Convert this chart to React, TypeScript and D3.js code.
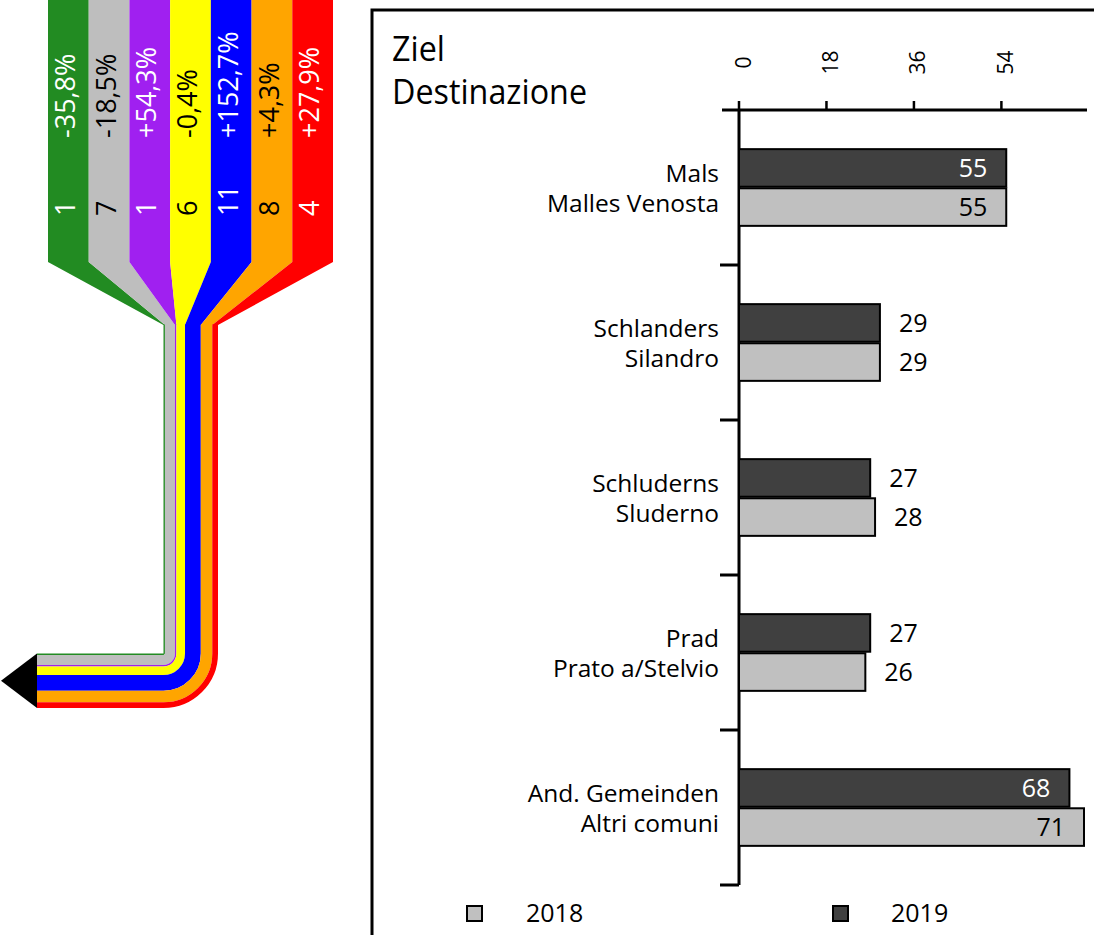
import React from "react";
import * as d3 from "d3";

// flow (left side)
const flowValues = [1, 7, 1, 6, 11, 8, 4];
const flowPct = ["-35,8%", "-18,5%", "+54,3%", "-0,4%", "+152,7%", "+4,3%", "+27,9%"];
const flowColors = ["#228b22", "#bebebe", "#a020f0", "#ffff00", "#0000ff", "#ffa500", "#ff0000"];
const flowText = ["#fff", "#000", "#fff", "#000", "#fff", "#000", "#fff"];

// bar chart (right side)
const destDe = ["Mals", "Schlanders", "Schluderns", "Prad", "And. Gemeinden"];
const destIt = ["Malles Venosta", "Silandro", "Sluderno", "Prato a/Stelvio", "Altri comuni"];
const years = ["2019", "2018"];
const values2019 = [55, 29, 27, 27, 68];
const values2018 = [55, 29, 28, 26, 71];
const xTicks = [0, 18, 36, 54];

const FONT = "'Open Sans', sans-serif";
const W = 1094;
const H = 935;

export default function App() {
  // --- flow geometry
  const colX = d3.scaleBand<number>().domain(d3.range(flowValues.length)).range([48, 333]);
  const total = d3.sum(flowValues);
  const cum = d3.cumsum(flowValues);
  const pipe = d3.scaleLinear().domain([0, total]).range([0, 54.5]);
  const pipeX = 163.5;
  const turnY = 653.5;
  const colBottom = 262;
  const pipeTop = 325;
  const arrowX = 37;

  // --- bar geometry
  const x = d3.scaleLinear().domain([0, 71]).range([739, 1084]);
  const y = d3.scaleBand().domain(destDe).range([110, 885]);
  const yInner = d3.scaleBand().domain(years).range([0, y.bandwidth()]).paddingInner(0.04).paddingOuter(1);
  const series: Record<string, number[]> = { "2019": values2019, "2018": values2018 };
  const fills: Record<string, string> = { "2019": "#404040", "2018": "#c0c0c0" };

  return (
    <svg width={W} height={H} style={{ position: "absolute", left: 0, top: 0 }} fontFamily={FONT}>
      <rect width={W} height={H} fill="#fff" />

      {/* flow columns + tapers */}
      {flowValues.map((v, i) => {
        const x0 = colX(i)!;
        const x1 = x0 + colX.bandwidth();
        const p0 = pipeX + pipe(cum[i] - v);
        const p1 = pipeX + pipe(cum[i]);
        const pts = [[x0, 0], [x1, 0], [x1, colBottom], [p1, pipeTop], [p0, pipeTop], [x0, colBottom]];
        return <polygon key={"c" + i} points={pts.map((p) => p.join(",")).join(" ")} fill={flowColors[i]} />;
      })}

      {/* pipe bands with rounded turn */}
      {flowValues.map((v, i) => {
        const r = pipe(cum[i] - v / 2);
        const w = pipe(v);
        const d = d3.path();
        d.moveTo(pipeX + r, pipeTop - 0.5);
        d.lineTo(pipeX + r, turnY);
        d.arc(pipeX, turnY, r, 0, Math.PI / 2);
        d.lineTo(arrowX, turnY + r);
        return <path key={"p" + i} d={d.toString()} fill="none" stroke={flowColors[i]} strokeWidth={w} />;
      })}
      <polygon
        points={`${arrowX},${turnY} ${arrowX},${turnY + pipe(total)} 1,${turnY + pipe(total) / 2}`}
        fill="#000"
      />

      {/* flow labels */}
      {flowValues.map((v, i) => {
        const bx = colX(i)! + 27;
        return (
          <g key={"t" + i} fill={flowText[i]} fontSize={27}>
            <text transform={`translate(${bx},138) rotate(-90)`}>{flowPct[i]}</text>
            <text transform={`translate(${bx},216) rotate(-90)`}>{v}</text>
          </g>
        );
      })}

      {/* frame */}
      <rect x={372} y={10} width={800} height={1000} fill="none" stroke="#000" strokeWidth={3} />

      {/* title */}
      <text transform="translate(392,61) scale(0.95,1)" fontSize={34}>Ziel</text>
      <text transform="translate(392,104) scale(0.95,1)" fontSize={34}>Destinazione</text>

      {/* top axis */}
      <line x1={722} x2={1087} y1={110} y2={110} stroke="#000" strokeWidth={3} />
      {xTicks.map((t) => (
        <g key={"xt" + t}>
          <line x1={x(t)} x2={x(t)} y1={101} y2={110} stroke="#000" strokeWidth={2.5} />
          <text transform={`translate(${x(t) + 11.5},62.5) rotate(-90)`} textAnchor="middle" fontSize={21}>
            {t}
          </text>
        </g>
      ))}

      {/* left axis */}
      <line x1={x(0)} x2={x(0)} y1={110} y2={885} stroke="#000" strokeWidth={3} />
      {destDe.map((c) => (
        <line
          key={"yt" + c}
          x1={x(0) - 19}
          x2={x(0)}
          y1={y(c)! + y.bandwidth()}
          y2={y(c)! + y.bandwidth()}
          stroke="#000"
          strokeWidth={3}
        />
      ))}

      {/* bars */}
      {destDe.map((c, ci) => (
        <g key={"g" + c}>
          <text x={719} y={y(c)! + y.bandwidth() / 2 - 6} textAnchor="end" fontSize={24.5}>
            {c}
          </text>
          <text x={719} y={y(c)! + y.bandwidth() / 2 + 24} textAnchor="end" fontSize={24.5}>
            {destIt[ci]}
          </text>
          {years.map((yr) => {
            const v = series[yr][ci];
            const by = y(c)! + yInner(yr)!;
            const inside = v > 40;
            return (
              <g key={yr}>
                <rect
                  x={x(0)}
                  y={by}
                  width={x(v) - x(0)}
                  height={yInner.bandwidth()}
                  fill={fills[yr]}
                  stroke="#000"
                  strokeWidth={2}
                />
                <text
                  x={inside ? x(v) - 19 : x(v) + 19}
                  y={by + yInner.bandwidth() / 2 + 9}
                  textAnchor={inside ? "end" : "start"}
                  fontSize={25}
                  fill={inside && yr === "2019" ? "#fff" : "#000"}
                >
                  {v}
                </text>
              </g>
            );
          })}
        </g>
      ))}

      {/* legend */}
      {[
        { yr: "2018", sx: 467, tx: 526 },
        { yr: "2019", sx: 833, tx: 891 },
      ].map((l) => (
        <g key={"l" + l.yr}>
          <rect x={l.sx} y={906} width={15} height={15} fill={fills[l.yr]} stroke="#000" strokeWidth={2} />
          <text x={l.tx} y={922} fontSize={25}>{l.yr}</text>
        </g>
      ))}
    </svg>
  );
}
